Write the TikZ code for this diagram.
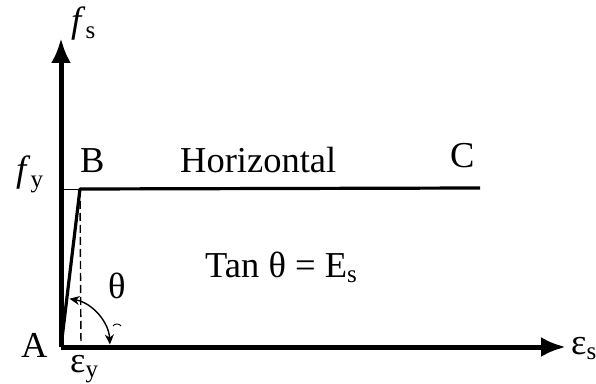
\documentclass[tikz,border=0pt]{standalone}
\usepackage{fontspec}
\setmainfont{Liberation Serif}
\usetikzlibrary{arrows.meta}
\newcommand\lowsub[1]{\raisebox{-0.3ex}{\fontsize{25}{25}\selectfont #1}}
\begin{document}
\begin{tikzpicture}[x=1pt,y=1pt,
    every node/.style={font=\fontsize{36.5}{40}\selectfont, inner sep=0pt, anchor=base west},
    axisline/.style={line width=5pt, -{Latex[length=25pt,width=20pt]}},
    curveline/.style={line width=3.2pt},
    angleline/.style={line width=1.4pt, {Stealth[length=10pt,width=9pt]}-{Stealth[length=10pt,width=9pt]}}]
    \useasboundingbox (0,0) rectangle (596,383);

    % Points of the curve
    \coordinate (A) at (61,36);
    \coordinate (B) at (80,194);
    \coordinate (C) at (480,195);
    \coordinate (Ytip) at (61,345);
    \coordinate (Xtip) at (566,36);
    \coordinate (Ybar) at (61,194);
    \coordinate (Ebar) at (81,36);

    % Draw axes
    \draw[axisline] (A) -- (Ytip);
    \draw[axisline] (A) -- (Xtip);

    % Elastic part and yield plateau
    \draw[curveline, line join=round] (A) -- (B) -- (C);
    \draw[line width=0.8pt] (Ybar) -- (B);
    \draw[line width=1.4pt, dash pattern=on 8pt off 4pt] (B) -- (Ebar);

    % Angle theta
    \draw[angleline] (A) ++(80:49) arc[start angle=80, end angle=3, radius=49];
    \draw[line width=0.9pt] (113,57) to[bend left=60] (121,57);

    % Labels
    \node (lblFs) at (71,350) {\textit{f}\lowsub{s}};
    \node (lblFy) at (16,201) {\textit{f}\lowsub{y}};
    \node (lblB) at (80,210) {B};
    \node (lblH) at (180,210) {Horizontal};
    \node (lblC) at (450,215) {C};
    \node (lblTan) at (205,106) {Tan θ = E\lowsub{s}};
    \node (lblTh) at (108,85) {θ};
    \node (lblA) at (21,26) {A};
    \node (lblEy) at (70,11) {ε\lowsub{y}};
    \node (lblEs) at (571,29) {ε\lowsub{s}};

\end{tikzpicture}
\end{document}
